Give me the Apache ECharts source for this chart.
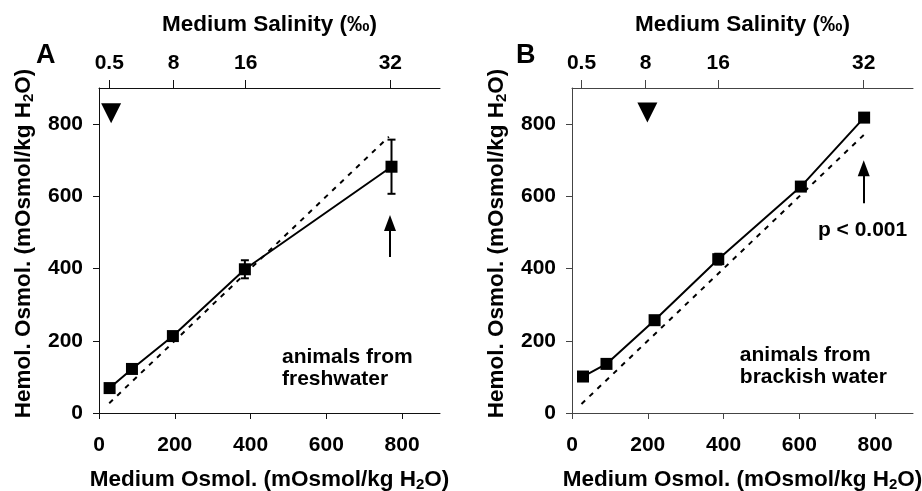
<!DOCTYPE html>
<html>
<head>
<meta charset="utf-8">
<script src="https://cdn.jsdelivr.net/npm/echarts@6/dist/echarts.min.js"></script>
<style>
html, body { margin: 0; padding: 0; background: #fff; }
#main { width: 922px; height: 491px; }
</style>
</head>
<body>
<div id="main"></div>
<script>
// axis ticks
const osmolTicks = [0, 200, 400, 600, 800]
const hemolTicks = [0, 200, 400, 600, 800]
const salinityLabels = ['0.5', '8', '16', '32']
const salinityOsmolA = [27, 197, 387, 769]
const salinityOsmolB = [25, 194, 386, 770]

// panel A: animals from freshwater
const mediumA = [28, 87, 195, 385, 772]
const hemolA = [69, 122, 213, 398, 682]
const errA = [5, 6, 8, 25, 75]
const isoA = [27, 765]
const triangleA = [32, 830]
const arrowA = [768, 432, 526]
const noteA = [483, 125, 'animals from\nfreshwater']

// panel B: animals from brackish water
const mediumB = [29, 91, 218, 386, 604, 771]
const hemolB = [101, 136, 257, 426, 627, 818]
const errB = [5, 6, 6, 15, 8, 10]
const isoB = [25, 770]
const triangleB = [199, 832]
const arrowB = [770, 581, 678]
const noteB = [443, 130, 'animals from\nbrackish water']
const pNoteB = [649, 507, 'p < 0.001']

const FONT = "'Liberation Sans', Arial, sans-serif"
const txt = (size) => ({ fontFamily: FONT, fontWeight: 'bold', fontSize: size, color: '#000' })
const subRich = {
  sub: { fontFamily: FONT, fontWeight: 'bold', fontSize: 15, color: '#000', verticalAlign: 'bottom', padding: [10, 0, 0, 0] }
}

const myChart = echarts.init(document.getElementById('main'))

const makeX = (gi, sal, col) => [
  {
    gridIndex: gi,
    type: 'value',
    position: 'bottom',
    min: 0,
    max: 900,
    axisLine: { show: true, onZero: false, lineStyle: { color: col, width: 1 } },
    axisTick: { show: true, length: 6, customValues: osmolTicks, lineStyle: { color: col } },
    axisLabel: { customValues: osmolTicks, margin: 22, ...txt(21) },
    splitLine: { show: false },
    name: 'Medium Osmol. (mOsmol/kg H{sub|2}O)',
    nameLocation: 'middle',
    nameGap: 54,
    nameTextStyle: { ...txt(22.5), rich: subRich }
  },
  {
    gridIndex: gi,
    type: 'value',
    position: 'top',
    min: 0,
    max: 900,
    axisLine: { show: true, onZero: false, lineStyle: { color: col, width: 1 } },
    axisTick: { show: true, length: 8, customValues: sal, lineStyle: { color: col } },
    axisLabel: {
      customValues: sal,
      margin: 14,
      ...txt(21),
      formatter: (v) => salinityLabels[sal.indexOf(v)]
    },
    splitLine: { show: false },
    name: 'Medium Salinity (‰)',
    nameLocation: 'middle',
    nameGap: 52,
    nameTextStyle: txt(22.5)
  }
]

const makeY = (gi, col) => ({
  gridIndex: gi,
  type: 'value',
  min: 0,
  max: 900,
  axisLine: { show: true, onZero: false, lineStyle: { color: col, width: 1 } },
  axisTick: { show: true, length: 6, customValues: hemolTicks, lineStyle: { color: col } },
  axisLabel: { customValues: hemolTicks, margin: 16, ...txt(21) },
  splitLine: { show: false },
  name: 'Hemol. Osmol. (mOsmol/kg H{sub|2}O)',
  nameLocation: 'middle',
  nameGap: 63,
  nameTextStyle: { ...txt(22.5), rich: subRich, padding: [0, 0, 0, 14] }
})

// 误差线
const errorBars = (xi, yi, xs, ys, es) => ({
  type: 'custom',
  xAxisIndex: xi,
  yAxisIndex: yi,
  data: xs.map((x, i) => [x, ys[i], es[i]]),
  renderItem: (params, api) => {
    const x = api.value(0)
    const y = api.value(1)
    const e = api.value(2)
    const top = api.coord([x, y + e])
    const bot = api.coord([x, y - e])
    const st = { stroke: '#000', lineWidth: 2 }
    return {
      type: 'group',
      children: [
        { type: 'line', shape: { x1: top[0], y1: top[1], x2: bot[0], y2: bot[1] }, style: st },
        { type: 'line', shape: { x1: top[0] - 4, y1: top[1], x2: top[0] + 4, y2: top[1] }, style: st },
        { type: 'line', shape: { x1: bot[0] - 4, y1: bot[1], x2: bot[0] + 4, y2: bot[1] }, style: st }
      ]
    }
  },
  z: 3
})

const panelSeries = (xi, yi, xs, ys, es, iso, tri, arrow, notes) => [
  {
    type: 'line',
    xAxisIndex: xi,
    yAxisIndex: yi,
    data: iso.map((v) => [v, v]),
    symbol: 'none',
    lineStyle: { color: '#000', width: 2, type: [5, 6] },
    z: 2
  },
  errorBars(xi, yi, xs, ys, es),
  {
    type: 'line',
    xAxisIndex: xi,
    yAxisIndex: yi,
    data: xs.map((x, i) => [x, ys[i]]),
    symbol: 'rect',
    symbolSize: 12,
    itemStyle: { color: '#000' },
    lineStyle: { color: '#000', width: 2 },
    z: 4
  },
  {
    type: 'scatter',
    xAxisIndex: xi,
    yAxisIndex: yi,
    data: [[tri[0], tri[1]]],
    symbol: 'triangle',
    symbolRotate: 180,
    symbolSize: [20, 20],
    itemStyle: { color: '#000', opacity: 1 }
  },
  {
    type: 'scatter',
    xAxisIndex: xi,
    yAxisIndex: yi,
    symbolSize: 0,
    itemStyle: { color: '#000', opacity: 1 },
    data: notes.map((n) => ({ value: [n[0], n[1]], name: n[2] })),
    label: {
      show: true,
      position: 'right',
      distance: 0,
      formatter: '{b}',
      lineHeight: 22,
      align: 'left',
      opacity: 1,
      ...txt(21)
    },
    markLine: {
      silent: true,
      symbol: ['none', 'triangle'],
      symbolSize: [12, 16],
      label: { show: false },
      lineStyle: { color: '#000', width: 2, type: 'solid', opacity: 1 },
      itemStyle: { color: '#000', opacity: 1 },
      data: [[{ coord: [arrow[0], arrow[1]] }, { coord: [arrow[0], arrow[2]] }]]
    }
  }
]

const option = {
  animation: false,
  backgroundColor: '#fff',
  title: [
    { text: 'A', left: 36, top: 42, padding: 0, textStyle: txt(27) },
    { text: 'B', left: 516, top: 42, padding: 0, textStyle: txt(27) }
  ],
  grid: [
    { left: 99, top: 88, width: 341, height: 325, outerBoundsMode: 'none', containLabel: false },
    { left: 572, top: 88, width: 341, height: 325, outerBoundsMode: 'none', containLabel: false }
  ],
  xAxis: [...makeX(0, salinityOsmolA, '#111'), ...makeX(1, salinityOsmolB, '#444')],
  yAxis: [makeY(0, '#111'), makeY(1, '#444')],
  series: [
    ...panelSeries(0, 0, mediumA, hemolA, errA, isoA, triangleA, arrowA, [noteA]),
    ...panelSeries(2, 1, mediumB, hemolB, errB, isoB, triangleB, arrowB, [noteB, pNoteB])
  ]
}
myChart.setOption(option)
</script>
</body>
</html>
